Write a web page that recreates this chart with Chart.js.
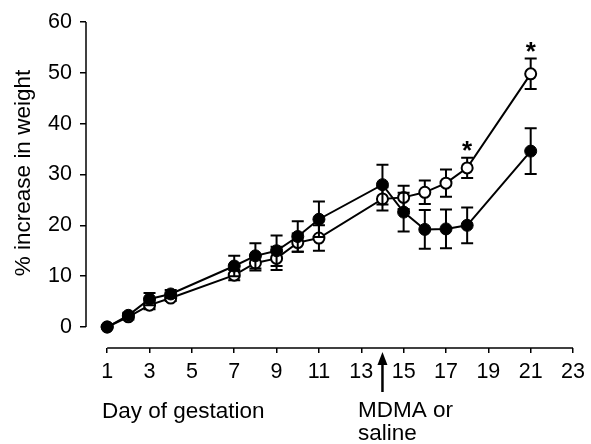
<!DOCTYPE html>
<html>
<head>
<meta charset="utf-8">
<script src="https://cdn.jsdelivr.net/npm/chart.js@4"></script>
<style>
  html, body { margin: 0; padding: 0; background: #fff; }
</style>
</head>
<body>
<canvas id="chart" width="591" height="444"></canvas>
<script>
// days of gestation with a measurement
const days = [1, 2, 3, 4, 7, 8, 9, 10, 11, 14, 15, 16, 17, 18, 21];
// filled circles
const mdmaMean = [0, 2.3, 5.5, 6.5, 12, 14, 15, 17.8, 21.2, 28, 22.6, 19.2, 19.3, 20, 34.6];
const mdmaErr = [0, 0.5, 1.2, 0.8, 2, 2.5, 3, 3, 3.5, 3.9, 3.8, 3.8, 3.8, 3.5, 4.5];
// open circles
const salineMean = [0, 2, 4.3, 5.7, 10.2, 12.6, 13.5, 16.6, 17.5, 25.2, 25.5, 26.5, 28.3, 31.3, 49.8];
const salineErr = [0, 0.5, 0.8, 0.6, 1, 1.5, 2.3, 1.8, 2.5, 2.3, 2.3, 2.3, 2.7, 2, 3];
const sigDays = [18, 21];
const xTicks = [1, 3, 5, 7, 9, 11, 13, 15, 17, 19, 21, 23];
const yTicks = [0, 10, 20, 30, 40, 50, 60];
const injectionDay = 14;

const FONT = "'Liberation Sans', Arial, sans-serif";
const errors = [mdmaErr, salineErr];

const extras = {
  id: "extras",
  // error bars go under each dataset's line and points
  beforeDatasetDraw(chart, args) {
    const err = errors[args.index];
    const ds = chart.data.datasets[args.index];
    const { x, y } = chart.scales;
    const ctx = chart.ctx;
    ctx.save();
    ctx.strokeStyle = "#000";
    ctx.lineWidth = 2;
    ds.data.forEach((p, i) => {
      if (!err[i]) return;
      const px = x.getPixelForValue(p.x);
      const top = y.getPixelForValue(p.y + err[i]);
      const bot = y.getPixelForValue(p.y - err[i]);
      ctx.beginPath();
      ctx.moveTo(px, top); ctx.lineTo(px, bot);
      ctx.moveTo(px - 6, top); ctx.lineTo(px + 6, top);
      ctx.moveTo(px - 6, bot); ctx.lineTo(px + 6, bot);
      ctx.stroke();
    });
    ctx.restore();
  },
  afterDraw(chart) {
    const { x, y } = chart.scales;
    const ctx = chart.ctx;
    ctx.save();
    ctx.strokeStyle = "#000";
    ctx.fillStyle = "#000";
    ctx.lineWidth = 1.5;
    // y axis line only from 0 to 60
    const ax = x.getPixelForValue(x.min);
    ctx.beginPath();
    ctx.moveTo(ax, y.getPixelForValue(0));
    ctx.lineTo(ax, y.getPixelForValue(60));
    ctx.stroke();
    // x axis line from day 1 to 23
    const ay = y.getPixelForValue(y.min);
    ctx.beginPath();
    ctx.moveTo(x.getPixelForValue(1), ay);
    ctx.lineTo(x.getPixelForValue(23), ay);
    ctx.stroke();

    // asterisks above open series
    ctx.font = "bold 26px " + FONT;
    ctx.textAlign = "center";
    ctx.textBaseline = "alphabetic";
    sigDays.forEach((d) => {
      const i = days.indexOf(d);
      const top = y.getPixelForValue(salineMean[i] + salineErr[i]);
      ctx.fillText("*", x.getPixelForValue(d), top - 14 + 15);
    });

    // arrow marking injection
    const arx = x.getPixelForValue(injectionDay);
    ctx.lineWidth = 2.5;
    ctx.beginPath();
    ctx.moveTo(arx, 392);
    ctx.lineTo(arx, 360);
    ctx.stroke();
    ctx.beginPath();
    ctx.moveTo(arx, 352);
    ctx.lineTo(arx - 5, 365);
    ctx.lineTo(arx + 5, 365);
    ctx.closePath();
    ctx.fill();

    // texts
    ctx.font = "22.5px " + FONT;
    ctx.textAlign = "left";
    ctx.fillText("Day of gestation", 102, 418);
    ctx.fillText("MDMA or", 358, 417);
    ctx.fillText("saline", 358, 440);

    ctx.save();
    ctx.translate(30, 173);
    ctx.rotate(-Math.PI / 2);
    ctx.textAlign = "center";
    ctx.fillText("% increase in weight", 0, 0);
    ctx.restore();
    ctx.restore();
  },
};

new Chart(document.getElementById("chart"), {
  type: "line",
  data: {
    datasets: [
      {
        label: "MDMA",
        data: days.map((d, i) => ({ x: d, y: mdmaMean[i] })),
        borderColor: "#000",
        backgroundColor: "#000",
        borderWidth: 2,
        pointRadius: 6,
        pointBorderWidth: 1,
        pointBackgroundColor: "#000",
        tension: 0,
        clip: false,
      },
      {
        label: "Saline",
        data: days.map((d, i) => ({ x: d, y: salineMean[i] })),
        borderColor: "#000",
        backgroundColor: "#fff",
        borderWidth: 2,
        pointRadius: 5.5,
        pointBorderWidth: 2,
        pointBackgroundColor: "#fff",
        tension: 0,
        clip: false,
      },
    ],
  },
  options: {
    responsive: false,
    animation: false,
    layout: { padding: { top: 22, right: 13, left: 0, bottom: 0 } },
    plugins: { legend: { display: false }, tooltip: { enabled: false } },
    scales: {
      x: {
        type: "linear",
        min: 0,
        max: 23,
        afterBuildTicks: (s) => { s.ticks = xTicks.map((v) => ({ value: v })); },
        afterFit: (s) => { s.height = 96; },
        border: { display: false },
        grid: { drawOnChartArea: false, tickLength: 5, color: "#000", lineWidth: 1.5 },
        ticks: { color: "#000", padding: 6, maxRotation: 0, autoSkip: false, font: { family: FONT, size: 21.5 } },
      },
      y: {
        min: -4.13,
        max: 60,
        afterBuildTicks: (s) => { s.ticks = yTicks.map((v) => ({ value: v })); },
        afterFit: (s) => { s.width = 86; },
        border: { display: false },
        grid: { drawOnChartArea: false, tickLength: 6, color: "#000", lineWidth: 1.5 },
        ticks: { color: "#000", padding: 8, font: { family: FONT, size: 21.5 } },
      },
    },
  },
  plugins: [extras],
});
</script>
</body>
</html>
